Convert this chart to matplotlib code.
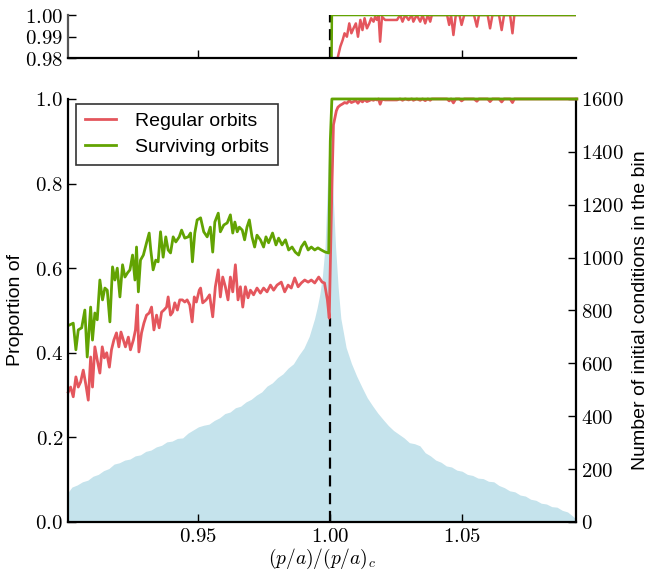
import matplotlib.pyplot as plt
from matplotlib.ticker import FuncFormatter

plt.rcParams['font.family'] = ['Liberation Sans', 'DejaVu Sans']
plt.rcParams['mathtext.fontset'] = 'cm'

# proportion of surviving orbits vs (p/a)/(p/a)_c
surv_x = [0.9012, 0.9025, 0.9035, 0.9044, 0.9057, 0.9069, 0.9078, 0.9091, 0.9098, 0.9107,
          0.9116, 0.9126, 0.9136, 0.9145, 0.9154, 0.9164, 0.9174, 0.9183, 0.9192, 0.9202,
          0.9212, 0.9221, 0.9231, 0.9240, 0.9250, 0.9259, 0.9265, 0.9272, 0.9280, 0.9291,
          0.9303, 0.9313, 0.9319, 0.9328, 0.9338, 0.9347, 0.9356, 0.9366, 0.9376, 0.9385,
          0.9394, 0.9404, 0.9414, 0.9427, 0.9436, 0.9448, 0.9461, 0.9470, 0.9477, 0.9486,
          0.9495, 0.9508, 0.9520, 0.9533, 0.9545, 0.9554, 0.9562, 0.9575, 0.9583, 0.9596,
          0.9609, 0.9621, 0.9630, 0.9638, 0.9647, 0.9655, 0.9666, 0.9675, 0.9684, 0.9693,
          0.9703, 0.9713, 0.9722, 0.9735, 0.9747, 0.9756, 0.9766, 0.9781, 0.9794, 0.9804,
          0.9817, 0.9830, 0.9842, 0.9855, 0.9867, 0.9880, 0.9890, 0.9903, 0.9916, 0.9928,
          0.9941, 0.9953, 0.9966, 0.9981, 0.9994, 1.0000, 1.0006, 1.0200, 1.0500, 1.0935]
surv_y = [0.466, 0.470, 0.407, 0.454, 0.459, 0.501, 0.390, 0.508, 0.430, 0.494,
          0.478, 0.572, 0.525, 0.553, 0.548, 0.473, 0.603, 0.572, 0.600, 0.532,
          0.608, 0.579, 0.589, 0.596, 0.631, 0.572, 0.650, 0.544, 0.619, 0.631,
          0.660, 0.683, 0.643, 0.596, 0.619, 0.615, 0.686, 0.626, 0.674, 0.643,
          0.636, 0.674, 0.662, 0.674, 0.690, 0.671, 0.674, 0.683, 0.615, 0.683,
          0.714, 0.719, 0.686, 0.674, 0.697, 0.638, 0.709, 0.730, 0.686, 0.702,
          0.707, 0.726, 0.683, 0.709, 0.686, 0.697, 0.690, 0.667, 0.697, 0.714,
          0.674, 0.650, 0.678, 0.667, 0.650, 0.674, 0.660, 0.683, 0.655, 0.671,
          0.655, 0.667, 0.643, 0.650, 0.638, 0.631, 0.650, 0.662, 0.643, 0.650,
          0.643, 0.648, 0.643, 0.638, 0.636, 0.900, 1.000, 1.000, 1.000, 1.000]

# proportion of regular orbits
reg_x = [0.9006, 0.9015, 0.9025, 0.9035, 0.9044, 0.9053, 0.9063, 0.9073, 0.9082, 0.9091,
         0.9098, 0.9107, 0.9116, 0.9126, 0.9135, 0.9143, 0.9152, 0.9162, 0.9170, 0.9179,
         0.9189, 0.9198, 0.9206, 0.9215, 0.9223, 0.9234, 0.9242, 0.9253, 0.9261, 0.9268,
         0.9274, 0.9284, 0.9293, 0.9303, 0.9313, 0.9322, 0.9331, 0.9341, 0.9351, 0.9360,
         0.9369, 0.9379, 0.9385, 0.9394, 0.9402, 0.9410, 0.9420, 0.9429, 0.9439, 0.9448,
         0.9457, 0.9467, 0.9476, 0.9484, 0.9492, 0.9503, 0.9508, 0.9516, 0.9529, 0.9542,
         0.9554, 0.9564, 0.9575, 0.9583, 0.9592, 0.9602, 0.9612, 0.9621, 0.9630, 0.9640,
         0.9650, 0.9659, 0.9668, 0.9678, 0.9688, 0.9697, 0.9709, 0.9722, 0.9735, 0.9747,
         0.9760, 0.9773, 0.9785, 0.9798, 0.9814, 0.9827, 0.9840, 0.9852, 0.9865, 0.9878,
         0.9890, 0.9903, 0.9916, 0.9928, 0.9941, 0.9956, 0.9969, 0.9978, 0.9989, 0.9996,
         1.0006, 1.0012, 1.0023, 1.0029, 1.0038, 1.0047, 1.0054, 1.0063, 1.0072, 1.0080,
         1.0088, 1.0097, 1.0105, 1.0114, 1.0122, 1.0130, 1.0139, 1.0148, 1.0155, 1.0164,
         1.0170, 1.0177, 1.0183, 1.0189, 1.0196, 1.0208, 1.0234, 1.0253, 1.0265, 1.0274,
         1.0284, 1.0297, 1.0309, 1.0315, 1.0328, 1.0341, 1.0350, 1.0360, 1.0370, 1.0379,
         1.0385, 1.0443, 1.0451, 1.0458, 1.0467, 1.0476, 1.0490, 1.0498, 1.0508, 1.0545,
         1.0556, 1.0564, 1.0597, 1.0606, 1.0615, 1.0640, 1.0650, 1.0659, 1.0682, 1.0691,
         1.0698, 1.0935]
reg_y = [0.307, 0.319, 0.296, 0.343, 0.319, 0.331, 0.359, 0.324, 0.288, 0.390,
         0.319, 0.414, 0.383, 0.352, 0.414, 0.388, 0.400, 0.366, 0.407, 0.430,
         0.447, 0.414, 0.449, 0.430, 0.414, 0.437, 0.407, 0.430, 0.454, 0.513,
         0.402, 0.447, 0.470, 0.489, 0.494, 0.508, 0.454, 0.489, 0.459, 0.496,
         0.501, 0.508, 0.532, 0.489, 0.496, 0.518, 0.501, 0.525, 0.525, 0.520,
         0.525, 0.513, 0.473, 0.532, 0.520, 0.548, 0.553, 0.518, 0.525, 0.537,
         0.485, 0.556, 0.596, 0.532, 0.579, 0.556, 0.525, 0.579, 0.544, 0.608,
         0.525, 0.556, 0.508, 0.556, 0.530, 0.548, 0.537, 0.553, 0.541, 0.553,
         0.544, 0.560, 0.548, 0.560, 0.567, 0.544, 0.560, 0.553, 0.577, 0.556,
         0.565, 0.572, 0.567, 0.572, 0.565, 0.579, 0.567, 0.565, 0.525, 0.482,
         0.790, 0.939, 0.972, 0.9806, 0.9853, 0.9884, 0.9915, 0.9899, 0.9961, 0.9915,
         0.9938, 0.9961, 0.9899, 0.9977, 0.9930, 0.9985, 0.9938, 0.9961, 0.9985, 0.9969,
         0.9992, 0.9977, 1.0000, 0.9876, 0.9992, 0.9977, 0.9977, 0.9977, 1.0000, 0.9969,
         1.0000, 0.9977, 1.0000, 0.9969, 1.0000, 0.9969, 1.0000, 0.9961, 1.0000, 0.9969,
         1.0000, 1.0000, 0.9954, 1.0000, 0.9907, 1.0000, 1.0000, 0.9954, 1.0000, 1.0000,
         0.9946, 1.0000, 1.0000, 0.9938, 1.0000, 1.0000, 0.9930, 1.0000, 1.0000, 0.9915,
         1.0000, 1.0000]

# number of initial conditions per bin
hist_x = [0.900, 0.902, 0.904, 0.906, 0.908, 0.910, 0.912, 0.914, 0.916, 0.918,
          0.920, 0.922, 0.924, 0.926, 0.928, 0.930, 0.932, 0.934, 0.936, 0.938,
          0.940, 0.942, 0.944, 0.946, 0.948, 0.950, 0.952, 0.954, 0.956, 0.958,
          0.960, 0.962, 0.964, 0.966, 0.968, 0.970, 0.972, 0.974, 0.976, 0.978,
          0.980, 0.982, 0.984, 0.986, 0.988, 0.990, 0.992, 0.994, 0.995, 0.996,
          0.997, 0.998, 0.999, 1.000, 1.001, 1.002, 1.003, 1.004, 1.006, 1.008,
          1.010, 1.012, 1.014, 1.016, 1.018, 1.020, 1.022, 1.024, 1.026, 1.028,
          1.030, 1.032, 1.034, 1.036, 1.038, 1.040, 1.042, 1.044, 1.046, 1.048,
          1.050, 1.052, 1.054, 1.056, 1.058, 1.060, 1.062, 1.064, 1.066, 1.068,
          1.070, 1.072, 1.074, 1.076, 1.078, 1.080, 1.082, 1.084, 1.086, 1.088,
          1.090, 1.092, 1.0935]
hist_n = [105, 132, 140, 152, 158, 173, 180, 194, 202, 219,
          224, 234, 238, 250, 254, 267, 272, 284, 290, 303,
          306, 316, 318, 336, 348, 360, 366, 370, 384, 394,
          410, 416, 432, 438, 454, 464, 480, 492, 514, 526,
          546, 560, 582, 598, 630, 658, 702, 768, 810, 860,
          930, 1040, 1300, 1570, 1250, 1040, 885, 770, 660, 600,
          552, 510, 470, 440, 412, 388, 365, 346, 332, 318,
          300, 296, 288, 262, 250, 234, 226, 212, 208, 196,
          192, 180, 176, 166, 164, 154, 152, 138, 130, 118,
          114, 102, 98, 86, 82, 71, 68, 58, 56, 44,
          38, 22, 8]

red = '#e4565d'
green = '#62a302'
blue = '#c5e3ec'
xlim = (0.9005, 1.0932)

fig = plt.figure(figsize=(6.48, 5.75), dpi=100)
ax = fig.add_axes([0.1049, 0.0922, 0.784, 0.7357])
ax2 = ax.twinx()
top = fig.add_axes([0.1049, 0.8991, 0.784, 0.0748])

ax2.fill_between(hist_x, 0, hist_n, color=blue, linewidth=0)
ax2.set_ylim(0, 1600)
ax2.set_yticks(range(0, 1601, 200))
ax2.set_ylabel('Number of initial conditions in the bin', fontsize=14, labelpad=6)

ax.set_zorder(ax2.get_zorder() + 1)
ax.patch.set_visible(False)
ax.plot([1.0, 1.0], [0, 0.482], color='black', lw=1.6, ls=(0, (5, 3)))
ax.plot(reg_x, reg_y, color=red, lw=2, label='Regular orbits', clip_on=False)
ax.plot(surv_x, surv_y, color=green, lw=2, label='Surviving orbits', clip_on=False)
ax.set_xlim(*xlim)
ax.set_ylim(0, 1.0)
ax.set_yticks([0.0, 0.2, 0.4, 0.6, 0.8, 1.0])
ax.set_xticks([0.95, 1.0, 1.05])
ax.set_ylabel('Proportion of', fontsize=14, labelpad=8)
ax.set_xlabel(r'$(p/a)/(p/a)_c$', fontsize=14, labelpad=1)
leg = ax.legend(loc='upper left', bbox_to_anchor=(0.117, 0.82), bbox_transform=fig.transFigure,
                fontsize=14, fancybox=False, borderaxespad=0, handlelength=1.6,
                handletextpad=1.0, borderpad=0.45, labelspacing=0.45)
leg.get_frame().set_edgecolor('black')
leg.get_frame().set_linewidth(1.2)

top.axvline(1.0, color='black', lw=1.6, ls=(0, (5, 3)))
top.plot(reg_x, reg_y, color=red, lw=1.8)
top.plot(surv_x, surv_y, color=green, lw=1.8)
top.set_xlim(*xlim)
top.set_ylim(0.98, 1.0)
top.set_yticks([0.98, 0.99, 1.00])
top.set_xticks([0.95, 1.0, 1.05])
top.set_xticklabels([])

fmt1 = FuncFormatter(lambda v, p: '$%.1f$' % v)
fmt2 = FuncFormatter(lambda v, p: '$%.2f$' % v)
fmt0 = FuncFormatter(lambda v, p: '$%d$' % v)
ax.yaxis.set_major_formatter(fmt1)
ax.xaxis.set_major_formatter(fmt2)
ax2.yaxis.set_major_formatter(fmt0)
top.yaxis.set_major_formatter(fmt2)

for a in (ax, ax2, top):
    a.tick_params(direction='in', length=6, width=1, labelsize=15)
    a.spines['top'].set_visible(False)
    for s in a.spines.values():
        s.set_linewidth(1.6)
ax.tick_params(right=False)
ax.spines['right'].set_visible(False)
ax2.spines['left'].set_visible(False)
ax2.spines['bottom'].set_visible(False)
top.spines['right'].set_visible(False)
top.spines['left'].set_color('#555555')
top.tick_params(right=False, top=False)

fig.savefig('out.png', dpi=100)
